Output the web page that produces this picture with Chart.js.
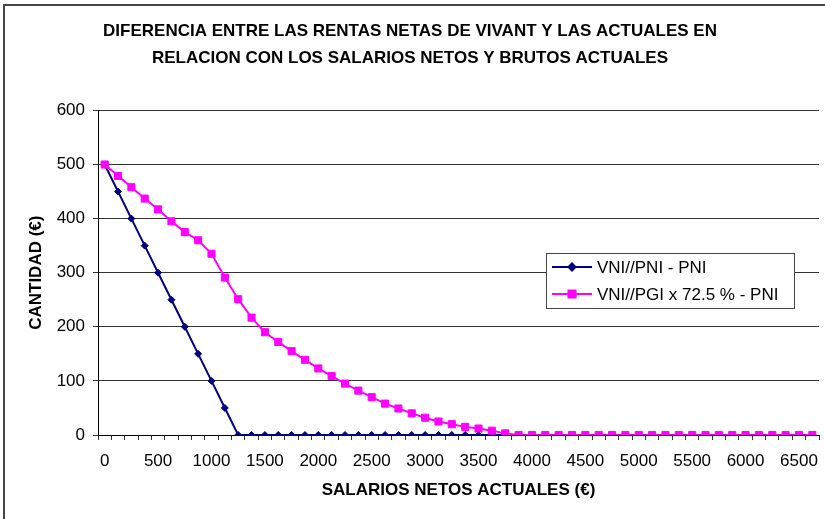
<!DOCTYPE html>
<html>
<head>
<meta charset="utf-8">
<script src="https://cdn.jsdelivr.net/npm/chart.js@4.4.0/dist/chart.umd.min.js"></script>
<style>
    body { margin: 0; background: #fff; }
    #grafica { display: block; background: #fff; }
</style>
</head>
<body>
<canvas id="grafica" width="825" height="519"></canvas>
<script>
// Salarios netos actuales (€), cada 125
const salarios = [0, 125, 250, 375, 500, 625, 750, 875, 1000, 1125, 1250, 1375, 1500, 1625, 1750, 1875,
    2000, 2125, 2250, 2375, 2500, 2625, 2750, 2875, 3000, 3125, 3250, 3375, 3500, 3625, 3750, 3875,
    4000, 4125, 4250, 4375, 4500, 4625, 4750, 4875, 5000, 5125, 5250, 5375, 5500, 5625, 5750, 5875,
    6000, 6125, 6250, 6375, 6500, 6625];

const vniPni = [500, 450, 400, 350, 300, 250, 200, 150, 100, 50, 0, 0, 0, 0, 0, 0,
    0, 0, 0, 0, 0, 0, 0, 0, 0, 0, 0, 0, 0, 0, 0];

const vniPgi = [500, 479, 458, 437, 417, 395, 375, 360, 335, 291, 251, 217, 190, 172, 155, 139,
    123, 109, 95, 82, 70, 58, 49, 40, 32, 25, 20, 15, 12, 8, 3, 0,
    0, 0, 0, 0, 0, 0, 0, 0, 0, 0, 0, 0, 0, 0, 0, 0,
    0, 0, 0, 0, 0, 0];

const titulo = ['DIFERENCIA ENTRE LAS RENTAS NETAS DE VIVANT Y LAS ACTUALES EN',
    'RELACION CON LOS SALARIOS NETOS Y BRUTOS ACTUALES'];

const fuente = "'Liberation Sans', Arial, sans-serif";

// Marco exterior y leyenda dibujados a mano, como en Excel
const marco = {
    id: 'marco',
    beforeDraw(chart) {
        const ctx = chart.ctx;
        ctx.save();
        ctx.strokeStyle = '#444';
        ctx.lineWidth = 2;
        ctx.beginPath();
        ctx.moveTo(4, 519);
        ctx.lineTo(4, 5);
        ctx.lineTo(825, 5);
        ctx.stroke();
        ctx.restore();
    },
    afterDraw(chart) {
        const ctx = chart.ctx;
        ctx.save();
        ctx.fillStyle = '#fff';
        ctx.fillRect(546, 253, 248, 55);
        ctx.strokeStyle = '#444';
        ctx.lineWidth = 1;
        ctx.strokeRect(546.5, 253.5, 248, 55);
        ctx.font = '17px ' + fuente;
        ctx.textBaseline = 'middle';
        chart.data.datasets.forEach((ds, i) => {
            const y = 267 + i * 27;
            ctx.strokeStyle = ds.borderColor;
            ctx.lineWidth = 2;
            ctx.beginPath();
            ctx.moveTo(552, y);
            ctx.lineTo(592, y);
            ctx.stroke();
            Chart.helpers.drawPoint(ctx, {
                pointStyle: ds.pointStyle,
                radius: ds.pointRadius,
                borderWidth: 1
            }, 572, y);
            ctx.fillStyle = ds.backgroundColor;
            ctx.strokeStyle = ds.borderColor;
            ctx.fill();
            ctx.fillStyle = '#000';
            ctx.fillText(ds.label, 597, y + 1);
        });
        ctx.restore();
    }
};

const ctx = document.getElementById('grafica').getContext('2d');
new Chart(ctx, {
    type: 'line',
    data: {
        labels: salarios,
        datasets: [
            {
                label: 'VNI//PNI - PNI',
                data: vniPni,
                borderColor: '#000080',
                backgroundColor: '#000080',
                borderWidth: 2,
                pointStyle: 'rectRot',
                pointRadius: 3.5,
                pointBorderWidth: 1,
                order: 2
            },
            {
                label: 'VNI//PGI x 72.5 % - PNI',
                data: vniPgi,
                borderColor: '#FF00FF',
                backgroundColor: '#FF00FF',
                borderWidth: 2,
                pointStyle: 'rect',
                pointRadius: 5,
                pointBorderWidth: 1,
                order: 1
            }
        ]
    },
    options: {
        responsive: false,
        animation: false,
        devicePixelRatio: 1,
        layout: { padding: { left: 0, right: 5, top: 0, bottom: 0 } },
        plugins: {
            legend: { display: false },
            tooltip: { enabled: false },
            title: {
                display: true,
                text: titulo,
                color: '#000',
                font: { family: fuente, size: 17, weight: 'bold', lineHeight: 1.6 },
                padding: { top: 18, bottom: 38 }
            }
        },
        scales: {
            x: {
                offset: true,
                afterFit: (scale) => { scale.height = 84; },
                grid: { drawOnChartArea: false, drawTicks: true, tickLength: 5, color: '#333', offset: true },
                border: { display: true, color: '#000', width: 1 },
                ticks: {
                    autoSkip: false,
                    maxRotation: 0,
                    padding: 11,
                    color: '#000',
                    font: { family: fuente, size: 17 },
                    callback: function (value, index) {
                        return index % 4 === 0 ? this.getLabelForValue(value) : '';
                    }
                },
                title: {
                    display: true,
                    text: 'SALARIOS NETOS ACTUALES (€)',
                    color: '#000',
                    font: { family: fuente, size: 17, weight: 'bold' },
                    padding: { top: 0, bottom: 18 }
                }
            },
            y: {
                min: 0,
                max: 600,
                afterFit: (scale) => { scale.width = 98; },
                grid: { color: '#333', tickLength: 5, drawTicks: true },
                border: { display: true, color: '#000', width: 1 },
                ticks: {
                    stepSize: 100,
                    padding: 8,
                    color: '#000',
                    font: { family: fuente, size: 17 }
                },
                title: {
                    display: true,
                    text: 'CANTIDAD (€)',
                    color: '#000',
                    font: { family: fuente, size: 17, weight: 'bold' },
                    padding: { top: 26, bottom: 0 }
                }
            }
        }
    },
    plugins: [marco]
});
</script>
</body>
</html>
